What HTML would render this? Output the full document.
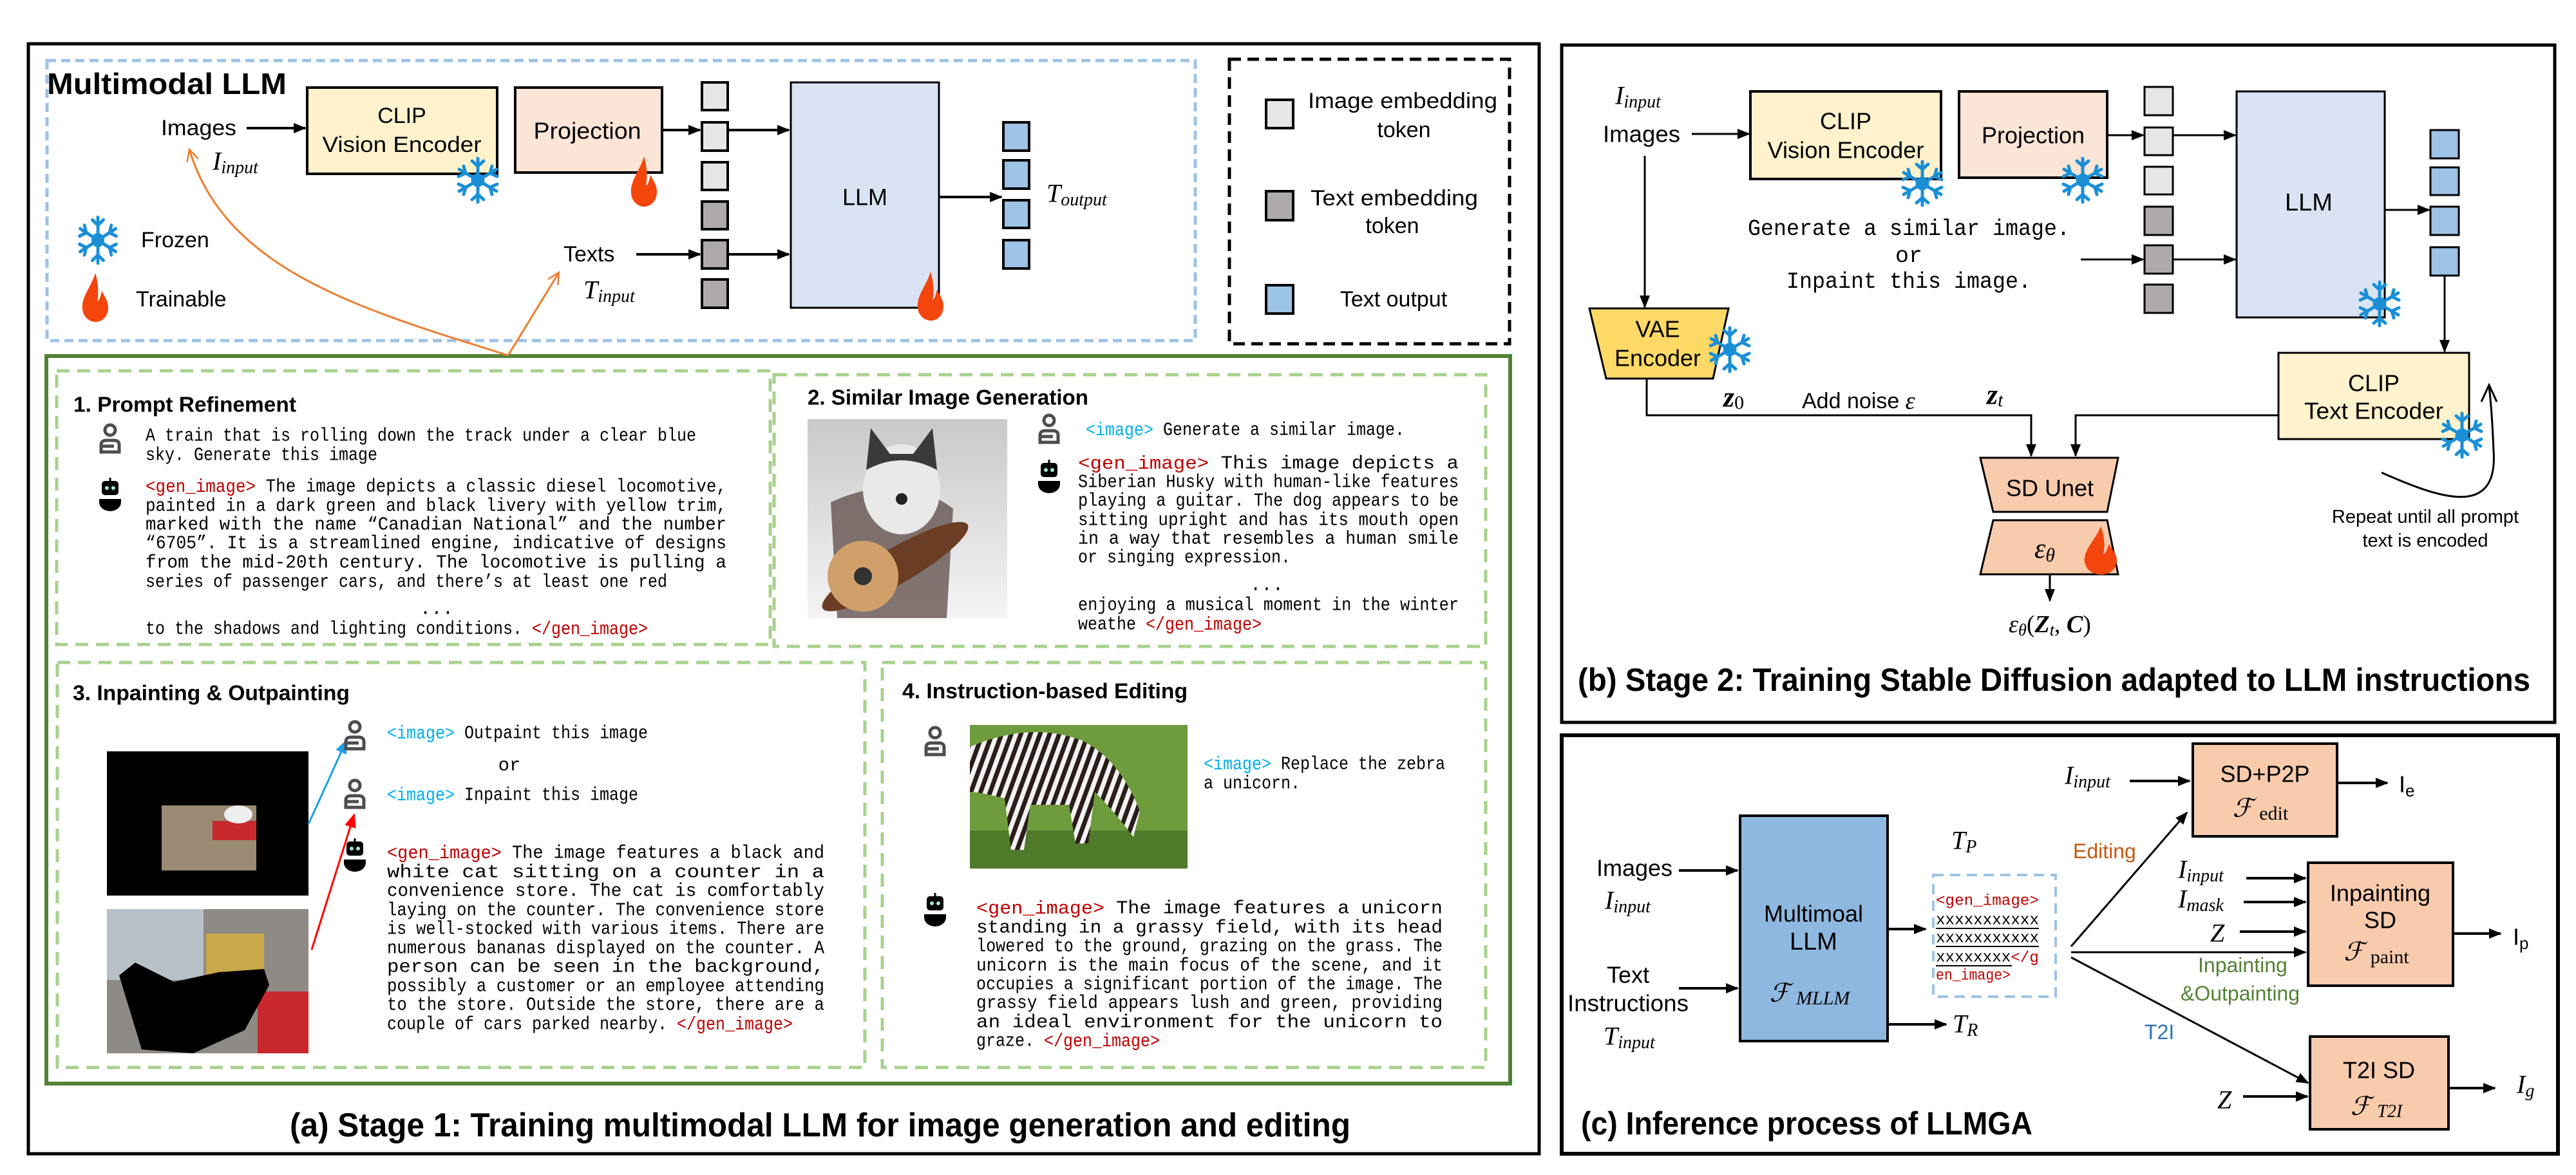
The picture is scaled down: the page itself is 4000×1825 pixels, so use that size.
<!DOCTYPE html>
<html><head><meta charset="utf-8"><style>
html,body{margin:0;padding:0;background:#fff;}
svg{display:block}
text{dominant-baseline:central;}
.s{font-family:"Liberation Sans",sans-serif;}
.m{font-family:"Liberation Mono",monospace;font-size:29px;}
.i{font-family:"Liberation Serif","DejaVu Serif",serif;font-style:italic;}
.b{font-family:"Liberation Sans",sans-serif;font-weight:bold;}
.r{fill:#c00000}.bl{fill:#00b0f0}
</style></head><body>
<svg width="4000" height="1825" viewBox="0 0 4000 1825" xmlns="http://www.w3.org/2000/svg">
<defs>
<marker id="ar" markerWidth="20" markerHeight="20" refX="18" refY="10" orient="auto" markerUnits="userSpaceOnUse"><path d="M0,2 L20,10 L0,18 Z" fill="#000"/></marker>
<marker id="ab" markerWidth="24" markerHeight="24" refX="20" refY="12" orient="auto" markerUnits="userSpaceOnUse"><path d="M0,3 L22,12 L0,21 Z" fill="#1aa0e8"/></marker>
<marker id="arr" markerWidth="24" markerHeight="24" refX="20" refY="12" orient="auto" markerUnits="userSpaceOnUse"><path d="M0,3 L22,12 L0,21 Z" fill="#f00"/></marker>
<marker id="ao" markerWidth="24" markerHeight="24" refX="20" refY="12" orient="auto" markerUnits="userSpaceOnUse"><path d="M2,3 L20,12 L2,21" fill="none" stroke="#ed7d31" stroke-width="2.5"/></marker>
<g id="snow" stroke="#1a8fd6" stroke-width="5" fill="none" stroke-linecap="round">
<line x1="0" y1="-34" x2="0" y2="34"/><line x1="-29" y1="-17" x2="29" y2="17"/><line x1="-29" y1="17" x2="29" y2="-17"/>
<path d="M-9,-30 L0,-22 L9,-30 M-9,30 L0,22 L9,30 M-30,-6 L-19,-11 L-22,-22 M30,6 L19,11 L22,22 M-30,6 L-19,11 L-22,22 M30,-6 L19,-11 L22,-22"/>
<circle cx="0" cy="0" r="8" fill="#1a8fd6"/></g>
<path id="flame" d="M0,-50 C-6,-22 -22,-2 -20,24 C-18,44 -6,50 0,50 C10,50 20,40 20,20 C20,6 13,-4 10,-14 C8,0 6,6 3,8 C6,-10 4,-34 0,-50 Z" fill="#f4450d"/>
<g id="user" fill="none" stroke="#4d4d4d" stroke-width="5"><circle cx="0" cy="-12" r="8"/><path d="M-14,22 V11 Q-14,4 -6,4 H6 Q14,4 14,11 V22 Z"/><line x1="-14" y1="13" x2="6" y2="13"/></g>
<g id="bot"><line x1="0" y1="-28" x2="0" y2="-22" stroke="#000" stroke-width="3"/><rect x="-13" y="-23" width="26" height="22" rx="5" fill="#000"/><circle cx="-5" cy="-12" r="3" fill="#a8e6cf"/><circle cx="5" cy="-12" r="3" fill="#a8e6cf"/><path d="M-17,5 H17 V10 A17,14 0 0 1 -17,10 Z" fill="#000"/></g>
<pattern id="zs" width="14" height="14" patternUnits="userSpaceOnUse" patternTransform="rotate(20)"><rect width="14" height="14" fill="#f2f2f2"/><rect width="7" height="14" fill="#2a1d1a"/></pattern>
<linearGradient id="hg" x1="0" y1="0" x2="0" y2="1"><stop offset="0" stop-color="#c9c9c9"/><stop offset="1" stop-color="#f4f4f4"/></linearGradient>
</defs>
<rect width="4000" height="1825" fill="#fff"/>

<!-- ===== (a) ===== -->
<rect x="44" y="68" width="2346" height="1724" fill="none" stroke="#000" stroke-width="5"/>
<rect x="73" y="94" width="1783" height="435" fill="none" stroke="#9dc3e6" stroke-width="5" stroke-dasharray="14 8"/>
<rect x="1909" y="92" width="435" height="442" fill="none" stroke="#000" stroke-width="5" stroke-dasharray="18 10"/>
<text class="b" x="73" y="130" font-size="46" textLength="372" lengthAdjust="spacingAndGlyphs">Multimodal LLM</text>

<rect x="477" y="136" width="295" height="134" fill="#fff2cc" stroke="#000" stroke-width="4"/>
<text class="s" x="624" y="180" font-size="34" text-anchor="middle">CLIP</text>
<text class="s" x="624" y="225" font-size="34" text-anchor="middle" textLength="247" lengthAdjust="spacingAndGlyphs">Vision Encoder</text>
<rect x="800" y="136" width="228" height="132" fill="#fbe5d6" stroke="#000" stroke-width="4"/>
<text class="s" x="912" y="203" font-size="36" text-anchor="middle" textLength="167" lengthAdjust="spacingAndGlyphs">Projection</text>
<rect x="1228" y="128" width="230" height="350" fill="#dae3f3" stroke="#000" stroke-width="3"/>
<text class="s" x="1343" y="306" font-size="36" text-anchor="middle">LLM</text>

<g stroke="#000" stroke-width="4">
<rect x="1090" y="128" width="40" height="43" fill="#e7e6e6"/>
<rect x="1090" y="190" width="40" height="44" fill="#e7e6e6"/>
<rect x="1090" y="252" width="40" height="43" fill="#e7e6e6"/>
<rect x="1090" y="313" width="40" height="43" fill="#aeaaaa"/>
<rect x="1090" y="373" width="40" height="44" fill="#aeaaaa"/>
<rect x="1090" y="434" width="40" height="44" fill="#aeaaaa"/>
<rect x="1558" y="190" width="40" height="44" fill="#9dc3e6"/>
<rect x="1558" y="249" width="40" height="44" fill="#9dc3e6"/>
<rect x="1558" y="311" width="40" height="43" fill="#9dc3e6"/>
<rect x="1558" y="373" width="40" height="44" fill="#9dc3e6"/>
</g>
<g stroke="#000" stroke-width="4" marker-end="url(#ar)">
<line x1="383" y1="199" x2="474" y2="199"/>
<line x1="1028" y1="202" x2="1087" y2="202"/>
<line x1="1132" y1="202" x2="1225" y2="202"/>
<line x1="988" y1="395" x2="1087" y2="395"/>
<line x1="1132" y1="395" x2="1225" y2="395"/>
<line x1="1458" y1="306" x2="1555" y2="306"/>
</g>
<text class="s" x="250" y="199" font-size="34" textLength="117" lengthAdjust="spacingAndGlyphs">Images</text>
<text class="i" x="330" y="250" font-size="40">I<tspan font-size="28" dy="10">input</tspan></text>
<text class="s" x="875" y="395" font-size="34">Texts</text>
<text class="i" x="906" y="450" font-size="40">T<tspan font-size="28" dy="10">input</tspan></text>
<text class="i" x="1625" y="300" font-size="40">T<tspan font-size="28" dy="10">output</tspan></text>
<use href="#snow" x="742" y="280"/>
<use href="#flame" transform="translate(1000,282) scale(1,0.78)"/>
<use href="#flame" transform="translate(1445,460) scale(1,0.76)"/>
<use href="#snow" transform="translate(152,373) scale(0.95,1.05)"/>
<text class="s" x="219" y="373" font-size="34">Frozen</text>
<use href="#flame" transform="translate(148,462) scale(1,0.76)"/>
<text class="s" x="211" y="465" font-size="34">Trainable</text>

<rect x="1966" y="155" width="42" height="44" fill="#e7e6e6" stroke="#000" stroke-width="4"/>
<text class="s" x="2178" y="157" font-size="34" text-anchor="middle" textLength="294" lengthAdjust="spacingAndGlyphs">Image embedding</text>
<text class="s" x="2180" y="202" font-size="34" text-anchor="middle">token</text>
<rect x="1966" y="297" width="42" height="45" fill="#aeaaaa" stroke="#000" stroke-width="4"/>
<text class="s" x="2165" y="308" font-size="34" text-anchor="middle" textLength="260" lengthAdjust="spacingAndGlyphs">Text embedding</text>
<text class="s" x="2162" y="351" font-size="34" text-anchor="middle">token</text>
<rect x="1966" y="443" width="42" height="44" fill="#9dc3e6" stroke="#000" stroke-width="4"/>
<text class="s" x="2164" y="465" font-size="34" text-anchor="middle">Text output</text>

<rect x="72" y="553" width="2273" height="1130" fill="none" stroke="#548235" stroke-width="6"/>
<path d="M789,552 C560,480 350,420 294,232" fill="none" stroke="#ed7d31" stroke-width="3" marker-end="url(#ao)"/>
<path d="M789,552 L868,423" fill="none" stroke="#ed7d31" stroke-width="3" marker-end="url(#ao)"/>

<g fill="none" stroke="#a9d18e" stroke-width="5" stroke-dasharray="20 12">
<rect x="88" y="576" width="1108" height="425"/>
<rect x="1202" y="582" width="1105" height="422"/>
<rect x="89" y="1029" width="1254" height="629"/>
<rect x="1370" y="1029" width="937" height="629"/>
</g>

<!-- panel 1 -->
<text class="b" x="114" y="628" font-size="33" textLength="346" lengthAdjust="spacingAndGlyphs">1. Prompt Refinement</text>
<use href="#user" x="171" y="680"/>
<use href="#bot" x="171" y="770"/>
<text class="m" x="226" y="677" textLength="855" lengthAdjust="spacingAndGlyphs">A train that is rolling down the track under a clear blue</text>
<text class="m" x="226" y="707" textLength="360" lengthAdjust="spacingAndGlyphs">sky. Generate this image</text>
<text class="m" x="226" y="756" textLength="902" lengthAdjust="spacingAndGlyphs"><tspan class="r">&lt;gen_image&gt;</tspan> The image depicts a classic diesel locomotive,</text>
<text class="m" x="226" y="786" textLength="902" lengthAdjust="spacingAndGlyphs">painted in a dark green and black livery with yellow trim,</text>
<text class="m" x="226" y="815" textLength="902" lengthAdjust="spacingAndGlyphs">marked with the name “Canadian National” and the number</text>
<text class="m" x="226" y="844" textLength="902" lengthAdjust="spacingAndGlyphs">“6705”. It is a streamlined engine, indicative of designs</text>
<text class="m" x="226" y="874" textLength="902" lengthAdjust="spacingAndGlyphs">from the mid-20th century. The locomotive is pulling a</text>
<text class="m" x="226" y="904" textLength="810" lengthAdjust="spacingAndGlyphs">series of passenger cars, and there’s at least one red</text>
<text class="m" x="678" y="946" text-anchor="middle">...</text>
<text class="m" x="226" y="977" textLength="780" lengthAdjust="spacingAndGlyphs">to the shadows and lighting conditions. <tspan class="r">&lt;/gen_image&gt;</tspan></text>

<!-- panel 2 -->
<text class="b" x="1254" y="617" font-size="33" textLength="436" lengthAdjust="spacingAndGlyphs">2. Similar Image Generation</text>
<rect x="1254" y="651" width="310" height="309" fill="url(#hg)"/>
<path d="M1290,780 Q1400,730 1480,790 L1470,960 L1300,960 Z" fill="#5b4a45" opacity="0.75"/>
<ellipse cx="1390" cy="880" rx="130" ry="28" fill="#6a3d24" transform="rotate(-30 1390 880)"/>
<ellipse cx="1340" cy="895" rx="55" ry="55" fill="#d1a06a"/>
<circle cx="1340" cy="895" r="14" fill="#333"/>
<ellipse cx="1400" cy="760" rx="60" ry="70" fill="#e9e9e9"/>
<path d="M1345,730 L1352,665 L1382,705 L1418,705 L1448,665 L1455,730 Q1400,700 1345,730 Z" fill="#3a3a3a"/>
<circle cx="1400" cy="775" r="9" fill="#222"/>
<use href="#user" x="1629" y="665"/>
<use href="#bot" x="1629" y="742"/>
<text class="m" x="1686" y="668" textLength="495" lengthAdjust="spacingAndGlyphs"><tspan class="bl">&lt;image&gt;</tspan> Generate a similar image.</text>
<text class="m" x="1674" y="720" textLength="591" lengthAdjust="spacingAndGlyphs"><tspan class="r">&lt;gen_image&gt;</tspan>  This  image  depicts  a</text>
<text class="m" x="1674" y="749" textLength="591" lengthAdjust="spacingAndGlyphs">Siberian Husky with human-like features</text>
<text class="m" x="1674" y="778" textLength="591" lengthAdjust="spacingAndGlyphs">playing a guitar. The dog appears to be</text>
<text class="m" x="1674" y="808" textLength="591" lengthAdjust="spacingAndGlyphs">sitting upright and has its mouth open</text>
<text class="m" x="1674" y="837" textLength="591" lengthAdjust="spacingAndGlyphs">in a way that resembles a human smile</text>
<text class="m" x="1674" y="866" textLength="330" lengthAdjust="spacingAndGlyphs">or singing expression.</text>
<text class="m" x="1967" y="909" text-anchor="middle">...</text>
<text class="m" x="1674" y="940" textLength="591" lengthAdjust="spacingAndGlyphs">enjoying a musical moment in the winter</text>
<text class="m" x="1674" y="970" textLength="285" lengthAdjust="spacingAndGlyphs">weathe <tspan class="r">&lt;/gen_image&gt;</tspan></text>

<!-- panel 3 -->
<text class="b" x="113" y="1076" font-size="33" textLength="430" lengthAdjust="spacingAndGlyphs">3. Inpainting &amp; Outpainting</text>
<rect x="166" y="1167" width="313" height="224" fill="#000"/>
<rect x="251" y="1251" width="147" height="101" fill="#9b8a73"/>
<rect x="330" y="1275" width="68" height="30" fill="#c8282e"/>
<ellipse cx="370" cy="1265" rx="22" ry="14" fill="#eee"/>
<rect x="166" y="1412" width="313" height="224" fill="#8e8a86"/>
<rect x="166" y="1412" width="150" height="110" fill="#b8c0c8"/>
<rect x="320" y="1450" width="90" height="70" fill="#c8a848"/>
<rect x="400" y="1540" width="79" height="96" fill="#c8282e"/>
<path d="M185,1515 L210,1495 L270,1525 L340,1510 L410,1505 L418,1530 L380,1600 L300,1636 L220,1630 Z" fill="#000"/>
<line x1="479" y1="1280" x2="538" y2="1150" stroke="#1aa0e8" stroke-width="3" marker-end="url(#ab)"/>
<line x1="484" y1="1475" x2="550" y2="1265" stroke="#f00" stroke-width="3" marker-end="url(#arr)"/>
<use href="#user" x="551" y="1141"/>
<use href="#user" x="551" y="1232"/>
<use href="#bot" x="551" y="1330"/>
<text class="m" x="601" y="1139" textLength="405" lengthAdjust="spacingAndGlyphs"><tspan class="bl">&lt;image&gt;</tspan> Outpaint this image</text>
<text class="m" x="791" y="1189" text-anchor="middle">or</text>
<text class="m" x="601" y="1235" textLength="390" lengthAdjust="spacingAndGlyphs"><tspan class="bl">&lt;image&gt;</tspan> Inpaint this image</text>
<text class="m" x="601" y="1325" textLength="679" lengthAdjust="spacingAndGlyphs"><tspan class="r">&lt;gen_image&gt;</tspan> The image features a black and</text>
<text class="m" x="601" y="1355" textLength="679" lengthAdjust="spacingAndGlyphs">white cat sitting on a counter in a</text>
<text class="m" x="601" y="1384" textLength="679" lengthAdjust="spacingAndGlyphs">convenience store. The cat is comfortably</text>
<text class="m" x="601" y="1414" textLength="679" lengthAdjust="spacingAndGlyphs">laying on the counter. The convenience store</text>
<text class="m" x="601" y="1443" textLength="679" lengthAdjust="spacingAndGlyphs">is well-stocked with various items. There are</text>
<text class="m" x="601" y="1473" textLength="679" lengthAdjust="spacingAndGlyphs">numerous bananas displayed on the counter. A</text>
<text class="m" x="601" y="1502" textLength="679" lengthAdjust="spacingAndGlyphs">person can be seen in the background,</text>
<text class="m" x="601" y="1532" textLength="679" lengthAdjust="spacingAndGlyphs">possibly a customer or an employee attending</text>
<text class="m" x="601" y="1561" textLength="679" lengthAdjust="spacingAndGlyphs">to the store. Outside the store, there are a</text>
<text class="m" x="601" y="1591" textLength="630" lengthAdjust="spacingAndGlyphs">couple of cars parked nearby. <tspan class="r">&lt;/gen_image&gt;</tspan></text>

<!-- panel 4 -->
<text class="b" x="1401" y="1073" font-size="33" textLength="443" lengthAdjust="spacingAndGlyphs">4. Instruction-based Editing</text>
<use href="#user" x="1452" y="1150"/>
<rect x="1506" y="1126" width="338" height="223" fill="#6e9c3c"/>
<rect x="1506" y="1290" width="338" height="59" fill="#4f7a2a"/>
<path d="M1506,1160 Q1600,1120 1680,1150 Q1740,1180 1770,1260 L1760,1300 Q1730,1260 1700,1230 L1690,1310 L1670,1310 L1660,1250 L1600,1250 L1590,1320 L1570,1320 L1560,1240 Q1520,1230 1506,1230 Z" fill="url(#zs)"/>
<use href="#bot" x="1452" y="1415"/>
<text class="m" x="1869" y="1187" textLength="375" lengthAdjust="spacingAndGlyphs"><tspan class="bl">&lt;image&gt;</tspan> Replace the zebra</text>
<text class="m" x="1869" y="1217" textLength="150" lengthAdjust="spacingAndGlyphs">a unicorn.</text>
<text class="m" x="1516" y="1411" textLength="724" lengthAdjust="spacingAndGlyphs"><tspan class="r">&lt;gen_image&gt;</tspan>  The  image  features  a  unicorn</text>
<text class="m" x="1516" y="1441" textLength="724" lengthAdjust="spacingAndGlyphs">standing in a grassy field, with its head</text>
<text class="m" x="1516" y="1470" textLength="724" lengthAdjust="spacingAndGlyphs">lowered to the ground, grazing on the grass. The</text>
<text class="m" x="1516" y="1500" textLength="724" lengthAdjust="spacingAndGlyphs">unicorn is the main focus of the scene, and it</text>
<text class="m" x="1516" y="1529" textLength="724" lengthAdjust="spacingAndGlyphs">occupies a significant portion of the image. The</text>
<text class="m" x="1516" y="1558" textLength="724" lengthAdjust="spacingAndGlyphs">grassy field appears lush and green, providing</text>
<text class="m" x="1516" y="1588" textLength="724" lengthAdjust="spacingAndGlyphs">an ideal environment for the unicorn to</text>
<text class="m" x="1516" y="1617" textLength="285" lengthAdjust="spacingAndGlyphs">graze. <tspan class="r">&lt;/gen_image&gt;</tspan></text>

<text class="b" x="450" y="1748" font-size="52" textLength="1647" lengthAdjust="spacingAndGlyphs">(a) Stage 1: Training multimodal LLM for image generation and editing</text>

<!-- ===== (b) ===== -->
<rect x="2425" y="70" width="1542" height="1052" fill="none" stroke="#000" stroke-width="5"/>
<text class="i" x="2508" y="148" font-size="40">I<tspan font-size="28" dy="10">input</tspan></text>
<text class="s" x="2489" y="208" font-size="36" textLength="120" lengthAdjust="spacingAndGlyphs">Images</text>
<rect x="2718" y="142" width="296" height="136" fill="#fff2cc" stroke="#000" stroke-width="4"/>
<text class="s" x="2866" y="188" font-size="36" text-anchor="middle">CLIP</text>
<text class="s" x="2866" y="233" font-size="36" text-anchor="middle" textLength="243" lengthAdjust="spacingAndGlyphs">Vision Encoder</text>
<rect x="3042" y="142" width="230" height="134" fill="#fbe5d6" stroke="#000" stroke-width="4"/>
<text class="s" x="3157" y="210" font-size="36" text-anchor="middle" textLength="160" lengthAdjust="spacingAndGlyphs">Projection</text>
<rect x="3473" y="142" width="230" height="351" fill="#dae3f3" stroke="#000" stroke-width="3"/>
<text class="s" x="3585" y="315" font-size="38" text-anchor="middle">LLM</text>
<g stroke="#000" stroke-width="3">
<rect x="3330" y="135" width="44" height="44" fill="#e7e6e6"/>
<rect x="3330" y="198" width="44" height="43" fill="#e7e6e6"/>
<rect x="3330" y="259" width="44" height="43" fill="#e7e6e6"/>
<rect x="3330" y="321" width="44" height="44" fill="#aeaaaa"/>
<rect x="3330" y="381" width="44" height="44" fill="#aeaaaa"/>
<rect x="3330" y="442" width="44" height="44" fill="#aeaaaa"/>
<rect x="3774" y="202" width="44" height="44" fill="#9dc3e6"/>
<rect x="3774" y="260" width="44" height="43" fill="#9dc3e6"/>
<rect x="3774" y="321" width="44" height="44" fill="#9dc3e6"/>
<rect x="3774" y="384" width="44" height="44" fill="#9dc3e6"/>
</g>
<g stroke="#000" stroke-width="3" marker-end="url(#ar)">
<line x1="2627" y1="208" x2="2716" y2="208"/>
<line x1="3272" y1="210" x2="3328" y2="210"/>
<line x1="3375" y1="210" x2="3471" y2="210"/>
<line x1="3231" y1="403" x2="3328" y2="403"/>
<line x1="3375" y1="403" x2="3471" y2="403"/>
<line x1="3703" y1="326" x2="3772" y2="326"/>
<line x1="3796" y1="428" x2="3796" y2="546"/>
<line x1="2554" y1="242" x2="2554" y2="477"/>
<polyline points="2557,588 2557,645 3154,645 3154,708" fill="none"/>
<polyline points="3538,645 3223,645 3223,708" fill="none"/>
<line x1="3183" y1="892" x2="3183" y2="933"/>
</g>
<text class="m" x="2964" y="356" text-anchor="middle" style="font-size:35px" textLength="500" lengthAdjust="spacingAndGlyphs">Generate a similar image.</text>
<text class="m" x="2964" y="398" text-anchor="middle" style="font-size:35px">or</text>
<text class="m" x="2964" y="438" text-anchor="middle" style="font-size:35px" textLength="380" lengthAdjust="spacingAndGlyphs">Inpaint this image.</text>
<polygon points="2468,479 2684,479 2660,588 2494,588" fill="#ffd966" stroke="#000" stroke-width="3"/>
<text class="s" x="2574" y="511" font-size="36" text-anchor="middle">VAE</text>
<text class="s" x="2574" y="556" font-size="36" text-anchor="middle">Encoder</text>
<text class="i" x="2676" y="617" font-size="44" font-weight="bold">z<tspan font-size="30" font-weight="normal" font-style="normal" dy="8">0</tspan></text>
<text class="s" x="2798" y="623" font-size="34">Add noise <tspan class="i" font-size="38">ε</tspan></text>
<text class="i" x="3085" y="613" font-size="44" font-weight="bold">z<tspan font-size="30" font-weight="normal" dy="8">t</tspan></text>
<rect x="3538" y="548" width="296" height="134" fill="#fff2cc" stroke="#000" stroke-width="3"/>
<text class="s" x="3686" y="595" font-size="36" text-anchor="middle">CLIP</text>
<text class="s" x="3686" y="638" font-size="36" text-anchor="middle" textLength="216" lengthAdjust="spacingAndGlyphs">Text Encoder</text>
<polygon points="3075,711 3289,711 3272,795 3095,795" fill="#f8cbad" stroke="#000" stroke-width="3"/>
<text class="s" x="3183" y="758" font-size="36" text-anchor="middle">SD Unet</text>
<polygon points="3095,808 3272,808 3289,892 3075,892" fill="#f8cbad" stroke="#000" stroke-width="3"/>
<text class="i" x="3175" y="852" font-size="44" text-anchor="middle">ε<tspan font-size="30" dy="10">θ</tspan></text>
<text class="i" x="3183" y="970" font-size="38" text-anchor="middle">ε<tspan font-size="26" dy="8">θ</tspan><tspan dy="-8" font-style="normal">(</tspan><tspan font-weight="bold">Z</tspan><tspan font-size="26" dy="8">t</tspan><tspan dy="-8" font-style="normal">, </tspan><tspan font-weight="bold">C</tspan><tspan font-style="normal">)</tspan></text>
<use href="#snow" x="2985" y="285"/>
<use href="#snow" x="3234" y="280"/>
<use href="#snow" x="3695" y="472"/>
<use href="#snow" x="2686" y="543"/>
<use href="#snow" x="3823" y="676"/>
<use href="#flame" transform="translate(3262,855) scale(1.25,0.75)"/>
<path d="M3698,734 C3780,770 3880,810 3872,700 C3870,650 3868,625 3865,600" fill="none" stroke="#000" stroke-width="3"/>
<polyline points="3853,624 3865,598 3877,624" fill="none" stroke="#000" stroke-width="3"/>
<text class="s" x="3766" y="803" font-size="29" text-anchor="middle">Repeat until all prompt</text>
<text class="s" x="3766" y="840" font-size="29" text-anchor="middle">text is encoded</text>
<text class="b" x="2450" y="1056" font-size="50" textLength="1479" lengthAdjust="spacingAndGlyphs">(b) Stage 2: Training Stable Diffusion adapted to LLM instructions</text>

<!-- ===== (c) ===== -->
<rect x="2425" y="1142" width="1547" height="650" fill="none" stroke="#000" stroke-width="6"/>
<rect x="2702" y="1267" width="229" height="350" fill="#8fb8e0" stroke="#000" stroke-width="4"/>
<text class="s" x="2816" y="1419" font-size="36" text-anchor="middle">Multimoal</text>
<text class="s" x="2816" y="1463" font-size="38" text-anchor="middle">LLM</text>
<text class="i" x="2810" y="1542" font-size="40" text-anchor="middle">ℱ <tspan font-size="30" dy="8">MLLM</tspan></text>
<text class="s" x="2538" y="1348" font-size="36" text-anchor="middle">Images</text>
<text class="i" x="2492" y="1398" font-size="40">I<tspan font-size="28" dy="10">input</tspan></text>
<text class="s" x="2528" y="1514" font-size="36" text-anchor="middle">Text</text>
<text class="s" x="2528" y="1558" font-size="36" text-anchor="middle" textLength="188" lengthAdjust="spacingAndGlyphs">Instructions</text>
<text class="i" x="2490" y="1609" font-size="40">T<tspan font-size="28" dy="10">input</tspan></text>
<g stroke="#000" stroke-width="4" marker-end="url(#ar)">
<line x1="2607" y1="1352" x2="2698" y2="1352"/>
<line x1="2607" y1="1535" x2="2698" y2="1535"/>
<line x1="2931" y1="1443" x2="2990" y2="1443"/>
<line x1="2931" y1="1591" x2="3022" y2="1591"/>
<line x1="3307" y1="1213" x2="3400" y2="1213"/>
<line x1="3629" y1="1216" x2="3707" y2="1216"/>
<line x1="3488" y1="1364" x2="3580" y2="1364"/>
<line x1="3484" y1="1401" x2="3580" y2="1401"/>
<line x1="3478" y1="1447" x2="3580" y2="1447"/>
<line x1="3809" y1="1450" x2="3883" y2="1450"/>
<line x1="3483" y1="1703" x2="3583" y2="1703"/>
<line x1="3802" y1="1690" x2="3874" y2="1690"/>
</g>
<g stroke="#000" stroke-width="3" marker-end="url(#ar)">
<line x1="3216" y1="1470" x2="3396" y2="1262"/>
<line x1="3216" y1="1479" x2="3580" y2="1479"/>
<line x1="3216" y1="1487" x2="3584" y2="1682"/>
</g>
<text class="i" x="3030" y="1305" font-size="40">T<tspan font-size="28" dy="10">P</tspan></text>
<text class="i" x="3032" y="1590" font-size="40">T<tspan font-size="28" dy="10">R</tspan></text>
<rect x="3002" y="1359" width="190" height="189" fill="none" stroke="#9dc3e6" stroke-width="4" stroke-dasharray="16 10"/>
<text class="m r" x="3006" y="1400" style="font-size:24px" textLength="160" lengthAdjust="spacingAndGlyphs">&lt;gen_image&gt;</text>
<text class="m" x="3006" y="1430" style="font-size:24px" textLength="160" lengthAdjust="spacingAndGlyphs">xxxxxxxxxxx</text>
<text class="m" x="3006" y="1458" style="font-size:24px" textLength="160" lengthAdjust="spacingAndGlyphs">xxxxxxxxxxx</text>
<text class="m" x="3006" y="1488" style="font-size:24px" textLength="160" lengthAdjust="spacingAndGlyphs">xxxxxxxx<tspan class="r">&lt;/g</tspan></text>
<text class="m r" x="3006" y="1516" style="font-size:24px" textLength="116" lengthAdjust="spacingAndGlyphs">en_image&gt;</text>
<line x1="3006" y1="1442" x2="3166" y2="1442" stroke="#000" stroke-width="2"/>
<line x1="3006" y1="1470" x2="3166" y2="1470" stroke="#000" stroke-width="2"/>
<line x1="3006" y1="1500" x2="3124" y2="1500" stroke="#000" stroke-width="2"/>
<rect x="3405" y="1155" width="224" height="144" fill="#f8cbad" stroke="#000" stroke-width="4"/>
<text class="s" x="3517" y="1202" font-size="36" text-anchor="middle">SD+P2P</text>
<text class="i" x="3510" y="1255" font-size="40" text-anchor="middle">ℱ <tspan font-size="30" font-style="normal" font-family="Liberation Serif" dy="8">edit</tspan></text>
<text class="i" x="3206" y="1204" font-size="40">I<tspan font-size="28" dy="10">input</tspan></text>
<text class="s" x="3725" y="1218" font-size="36">I<tspan font-size="26" dy="10">e</tspan></text>
<text class="s" x="3219" y="1322" font-size="32" fill="#c55a11">Editing</text>
<rect x="3584" y="1340" width="225" height="191" fill="#f8cbad" stroke="#000" stroke-width="4"/>
<text class="s" x="3696" y="1387" font-size="36" text-anchor="middle">Inpainting</text>
<text class="s" x="3696" y="1429" font-size="36" text-anchor="middle">SD</text>
<text class="i" x="3690" y="1478" font-size="40" text-anchor="middle">ℱ <tspan font-size="30" font-style="normal" font-family="Liberation Serif" dy="8">paint</tspan></text>
<text class="i" x="3382" y="1350" font-size="40">I<tspan font-size="28" dy="10">input</tspan></text>
<text class="i" x="3382" y="1396" font-size="40">I<tspan font-size="28" dy="10">mask</tspan></text>
<text class="i" x="3432" y="1449" font-size="40">Z</text>
<text class="s" x="3902" y="1455" font-size="36">I<tspan font-size="26" dy="10">p</tspan></text>
<text class="s" x="3413" y="1499" font-size="32" fill="#548235">Inpainting</text>
<text class="s" x="3386" y="1543" font-size="32" fill="#548235">&amp;Outpainting</text>
<text class="s" x="3330" y="1603" font-size="32" fill="#2e75b6">T2I</text>
<rect x="3587" y="1610" width="215" height="144" fill="#f8cbad" stroke="#000" stroke-width="4"/>
<text class="s" x="3694" y="1662" font-size="36" text-anchor="middle">T2I SD</text>
<text class="i" x="3690" y="1718" font-size="40" text-anchor="middle">ℱ <tspan font-size="28" dy="8">T2I</tspan></text>
<text class="i" x="3443" y="1708" font-size="40">Z</text>
<text class="i" x="3908" y="1684" font-size="40">I<tspan font-size="28" dy="10">g</tspan></text>
<text class="b" x="2455" y="1745" font-size="50" textLength="701" lengthAdjust="spacingAndGlyphs">(c) Inference process of LLMGA</text>
</svg>
</body></html>
